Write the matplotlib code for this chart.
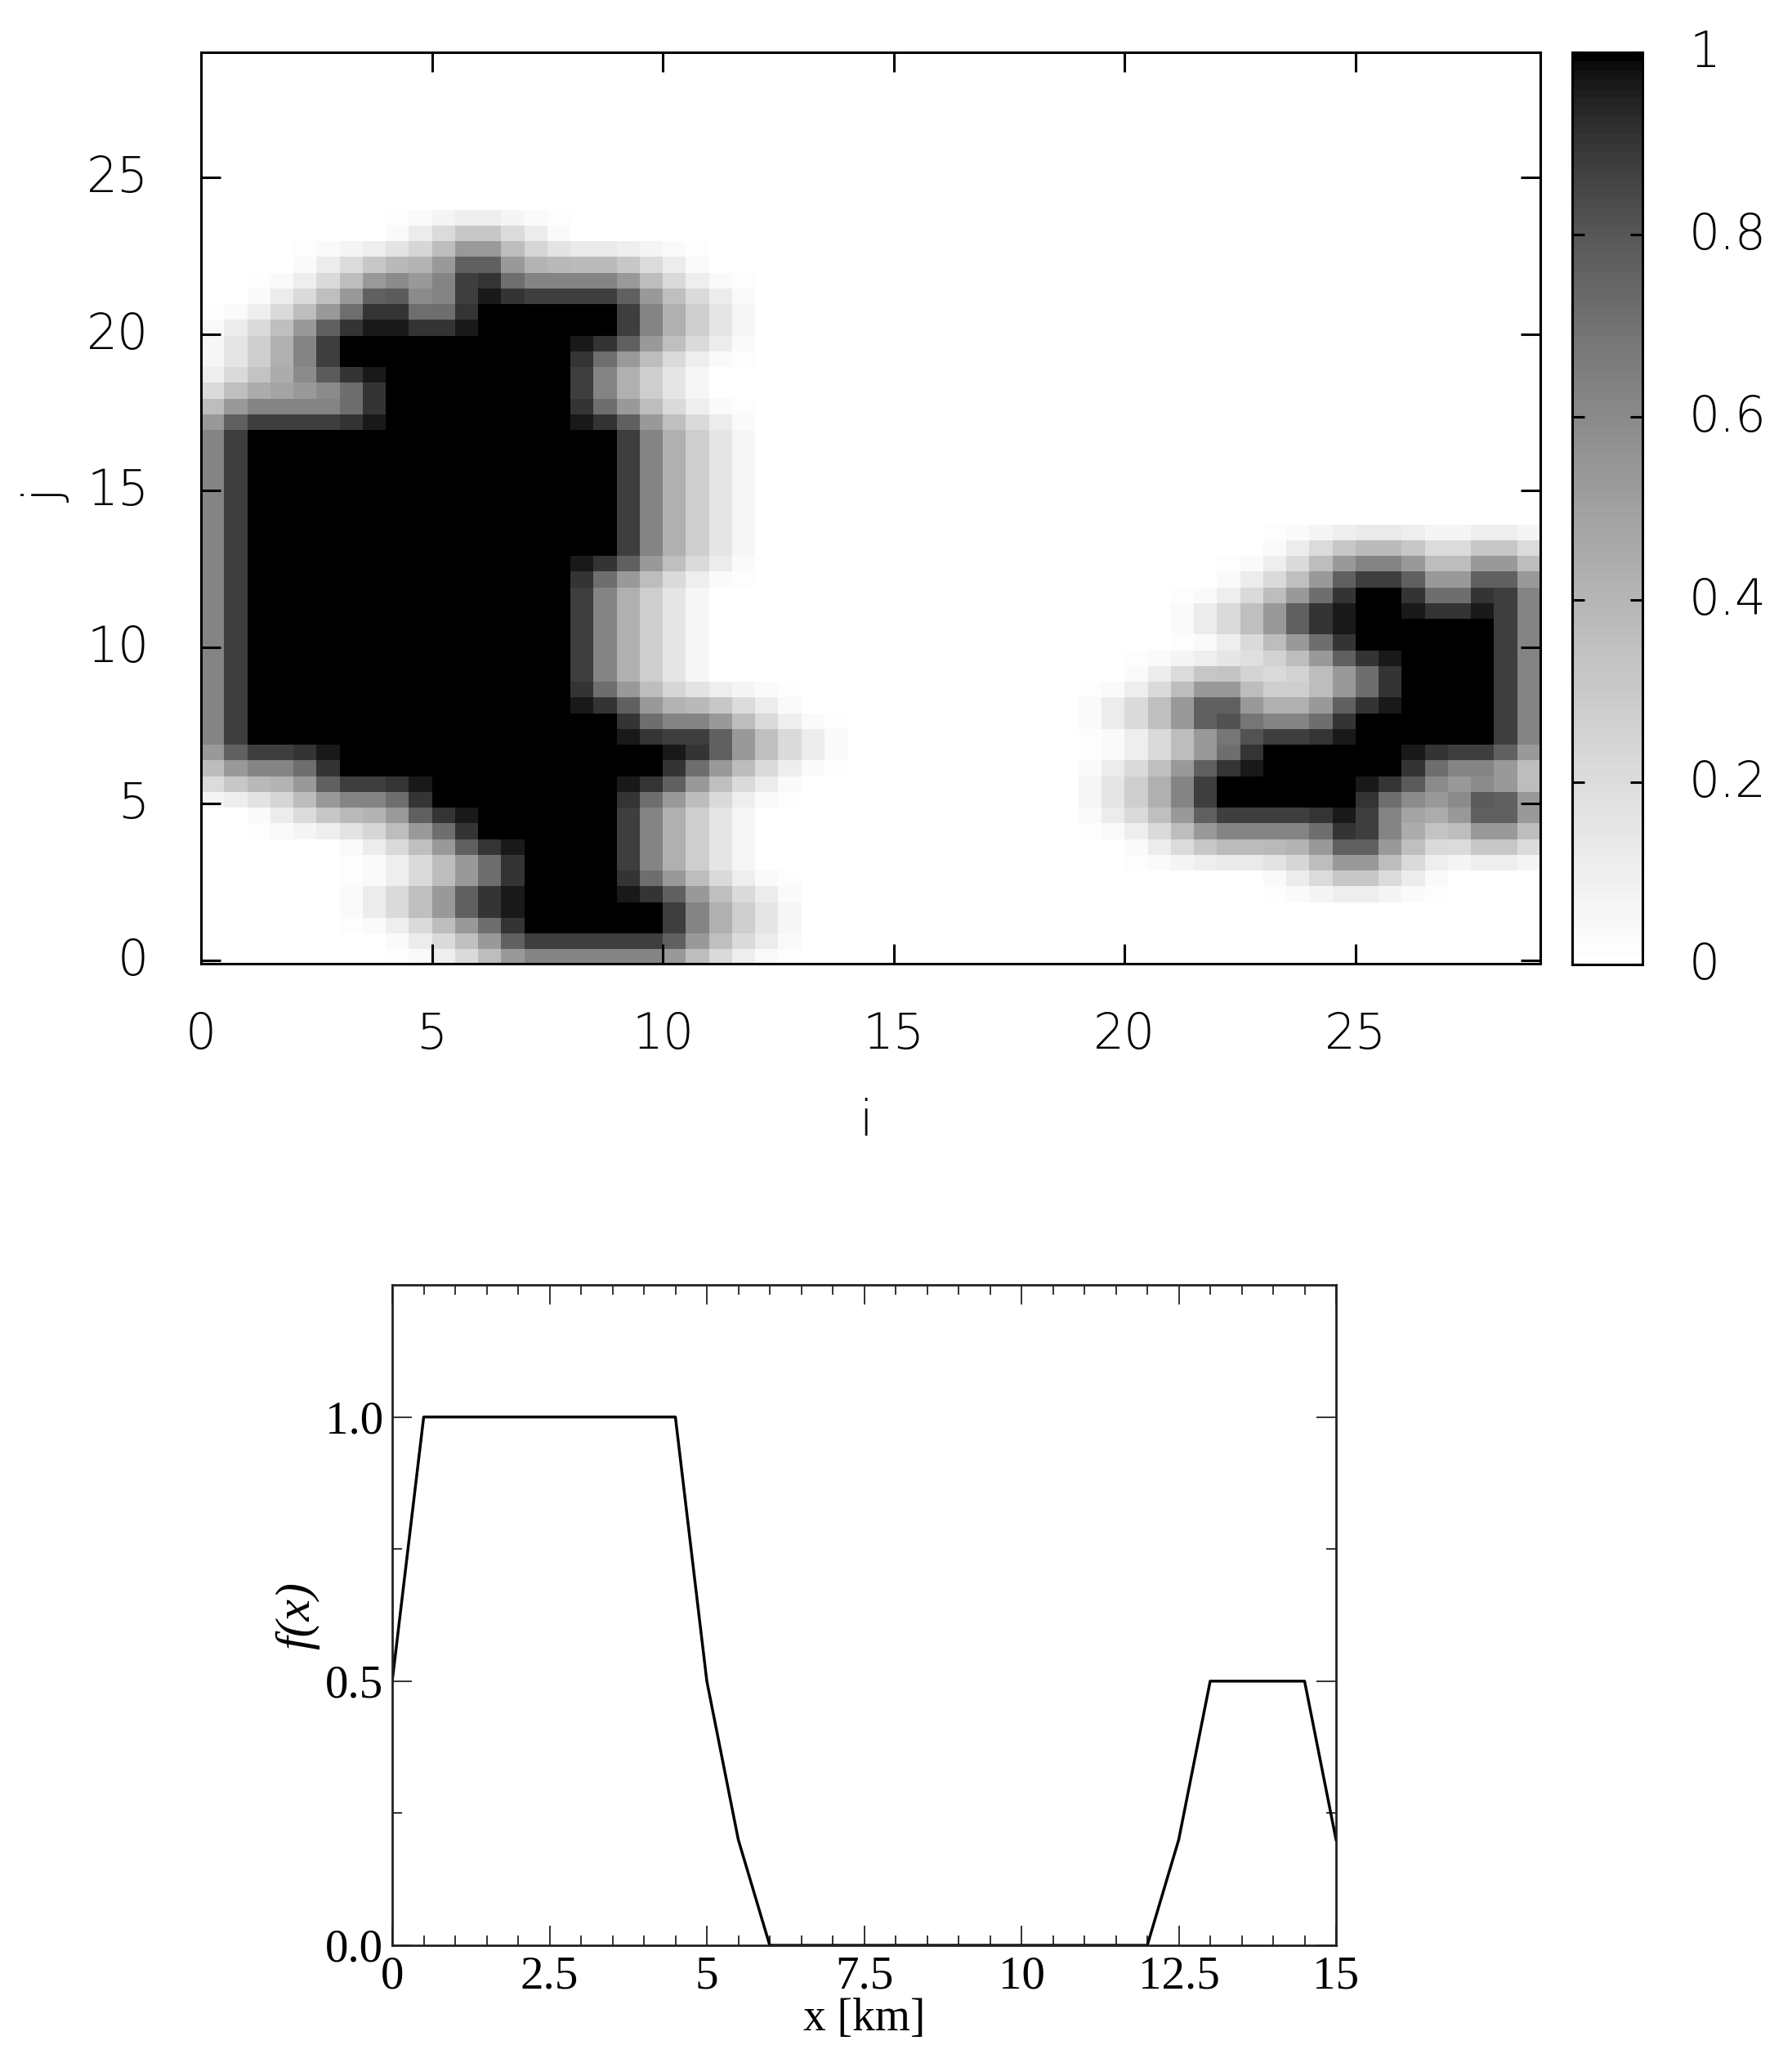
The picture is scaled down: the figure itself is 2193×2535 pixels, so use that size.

# two panel figure: gray map of f(i,j) on top, line profile f(x) below

import numpy as np
from matplotlib import pyplot as plt
from matplotlib.colors import ListedColormap
from matplotlib.transforms import ScaledTranslation

##############################
#            DATA            #
##############################

# f on the 30x30 grid, first row is j=0, first value in a row is i=0
field_rows = [
    [0,0,0,0,0,0,.2,.5,.5,.5,.5,.2,0,0,0,0,0,0,0,0,0,0,0,0,0,0,0,0,0,0],
    [0,0,0,0,0,.2,.5,1,1,1,1,.5,.2,0,0,0,0,0,0,0,0,0,0,0,0,0,0,0,0,0],
    [0,0,0,0,.2,.5,1,1,1,1,1,.5,.2,0,0,0,0,0,0,0,0,0,0,0,0,0,0,0,0,0],
    [0,0,0,0,0,.2,.5,1,1,1,.5,.2,0,0,0,0,0,0,0,0,0,0,0,0,.2,.5,.2,0,0,0],
    [0,0,0,0,.2,.5,1,1,1,1,.5,.2,0,0,0,0,0,0,0,0,0,.2,.5,.5,.5,1,.5,.2,.5,.2],
    [0,0,.2,.5,.5,1,1,1,1,1,.5,.2,0,0,0,0,0,0,0,0,.2,.5,1,1,1,1,.5,.5,1,.5],
    [.2,.5,.5,1,1,1,1,1,1,1,1,.5,.2,0,0,0,0,0,0,0,.2,.5,1,1,1,1,1,.5,.5,.2],
    [.5,1,1,1,1,1,1,1,1,1,1,1,.5,.2,0,0,0,0,0,0,0,.2,.5,1,1,1,1,1,1,.5],
    [.5,1,1,1,1,1,1,1,1,1,.5,.5,.2,0,0,0,0,0,0,0,.2,.5,1,.5,.5,1,1,1,1,.5],
    [.5,1,1,1,1,1,1,1,1,.5,.2,0,0,0,0,0,0,0,0,0,0,.2,.5,.2,.2,.5,1,1,1,.5],
    [.5,1,1,1,1,1,1,1,1,.5,.2,0,0,0,0,0,0,0,0,0,0,0,0,.2,.5,1,1,1,1,.5],
    [.5,1,1,1,1,1,1,1,1,.5,.2,0,0,0,0,0,0,0,0,0,0,0,.2,.5,1,1,1,1,1,.5],
    [.5,1,1,1,1,1,1,1,1,.5,.2,0,0,0,0,0,0,0,0,0,0,0,0,.2,.5,1,1,.5,1,.5],
    [.5,1,1,1,1,1,1,1,1,1,.5,.2,0,0,0,0,0,0,0,0,0,0,0,0,.2,.5,.5,.2,.5,.2],
    [.5,1,1,1,1,1,1,1,1,1,.5,.2,0,0,0,0,0,0,0,0,0,0,0,0,0,0,0,0,0,0],
    [.5,1,1,1,1,1,1,1,1,1,.5,.2,0,0,0,0,0,0,0,0,0,0,0,0,0,0,0,0,0,0],
    [.5,1,1,1,1,1,1,1,1,1,.5,.2,0,0,0,0,0,0,0,0,0,0,0,0,0,0,0,0,0,0],
    [.5,1,1,1,1,1,1,1,1,1,.5,.2,0,0,0,0,0,0,0,0,0,0,0,0,0,0,0,0,0,0],
    [.2,.5,.5,.5,1,1,1,1,1,.5,.2,0,0,0,0,0,0,0,0,0,0,0,0,0,0,0,0,0,0,0],
    [0,.2,.5,1,1,1,1,1,1,.5,.2,0,0,0,0,0,0,0,0,0,0,0,0,0,0,0,0,0,0,0],
    [0,.2,.5,1,1,1,1,1,1,1,.5,.2,0,0,0,0,0,0,0,0,0,0,0,0,0,0,0,0,0,0],
    [0,0,.2,.5,1,.5,1,1,1,1,.5,.2,0,0,0,0,0,0,0,0,0,0,0,0,0,0,0,0,0,0],
    [0,0,0,.2,.5,.5,1,.5,.5,.5,.2,0,0,0,0,0,0,0,0,0,0,0,0,0,0,0,0,0,0,0],
    [0,0,0,0,0,.2,.5,.2,0,0,0,0,0,0,0,0,0,0,0,0,0,0,0,0,0,0,0,0,0,0],
] + [[0] * 30 for j in range(6)]

map_xticks = [0, 5, 10, 15, 20, 25]
map_yticks = [0, 5, 10, 15, 20, 25]
bar_ticks = [0, 0.2, 0.4, 0.6, 0.8, 1]
bar_labels = ['0', '0.2', '0.4', '0.6', '0.8', '1']

profile_x = [0, .5, 1, 1.5, 2, 2.5, 3, 3.5, 4, 4.5, 5, 5.5, 6, 6.5, 7, 7.5,
             8, 8.5, 9, 9.5, 10, 10.5, 11, 11.5, 12, 12.5, 13, 13.5, 14, 14.5, 15]
profile_f = [.5, 1, 1, 1, 1, 1, 1, 1, 1, 1, .5, .2, 0, 0, 0, 0,
             0, 0, 0, 0, 0, 0, 0, 0, 0, .2, .5, .5, .5, .5, .2]
profile_xticks = [0, 2.5, 5, 7.5, 10, 12.5, 15]
profile_xlabels = ['0', '2.5', '5', '7.5', '10', '12.5', '15']
profile_yticks = [0, 0.5, 1]
profile_ylabels = ['0.0', '0.5', '1.0']

##############################
#         FUNCTIONS          #
##############################

W, H = 2193, 2535

def box(left, top, right, bottom):
    "Axes rectangle from pixel edges, y counted from the top of the picture"
    return [left / W, 1 - bottom / H, (right - left) / W, (bottom - top) / H]

def half_cells(grid):
    "Same facets as pm3d interpolate 2,2: halve the grid, colour each facet by its corner mean"
    n, m = grid.shape
    fine = np.zeros((2 * n - 1, 2 * m - 1))
    fine[::2, ::2] = grid
    fine[1::2, ::2] = (grid[:-1, :] + grid[1:, :]) / 2
    fine[::2, 1::2] = (grid[:, :-1] + grid[:, 1:]) / 2
    fine[1::2, 1::2] = (grid[:-1, :-1] + grid[1:, :-1] + grid[:-1, 1:] + grid[1:, 1:]) / 4
    return (fine[:-1, :-1] + fine[1:, :-1] + fine[:-1, 1:] + fine[1:, 1:]) / 4

def shift_labels(labels, fig, up_px):
    "Move tick labels up by some pixels"
    offset = ScaledTranslation(0, up_px / 100, fig.dpi_scale_trans)
    for label in labels:
        label.set_transform(label.get_transform() + offset)

##############################
#      VISUALIZATIONS        #
##############################

fig = plt.figure(figsize=(W / 100, H / 100), dpi=100)

# negative gray palette, gamma 1.5
levels = np.linspace(0, 1, 100)
gray_map = ListedColormap([str((1 - v) ** (1 / 1.5)) for v in levels])

ax = fig.add_axes(box(246, 64, 1885, 1179))
cells = half_cells(np.array(field_rows, dtype=float))
x_edges = np.arange(cells.shape[1] + 1) * 0.5
y_edges = -0.15 + 1.005 * np.arange(cells.shape[0] + 1) * 0.5
ax.pcolormesh(x_edges, y_edges, cells, cmap=gray_map, vmin=0, vmax=1, antialiased=False)
ax.set_xlim(0, 29)
ax.set_ylim(-0.11, 29)
ax.set_xticks(map_xticks)
ax.set_yticks(map_yticks)
ax.tick_params(which='both', direction='in', top=True, right=True, length=17, width=2.2,
               labelsize=43)
ax.tick_params(axis='x', pad=42)
ax.tick_params(axis='y', pad=46)
for label in ax.get_xticklabels() + ax.get_yticklabels():
    label.set_fontweight(200)
shift_labels(ax.get_yticklabels(), fig, 5)
for side in ax.spines.values():
    side.set_linewidth(2.2)
fig.text(1060 / W, 1 - 1372 / H, 'i', fontsize=43, fontweight=200, ha='center', va='center')
fig.text(57 / W, 1 - 607 / H, 'j', fontsize=43, fontweight=200, ha='center', va='center', rotation=90)

bar = fig.add_axes(box(1924, 64, 2010, 1180))
bar_edges = np.linspace(0, 1, 101)
bar.pcolormesh([0, 1], bar_edges, levels[:, None], cmap=gray_map, vmin=0, vmax=1, antialiased=False)
bar.set_ylim(0, 1)
bar.set_xticks([])
bar.set_yticks(bar_ticks)
bar.set_yticklabels(bar_labels, fontweight=200)
bar.yaxis.tick_right()
bar.tick_params(axis='y', direction='in', left=True, right=True, length=11, width=2.2,
                labelsize=43, pad=41)
shift_labels(bar.get_yticklabels(), fig, 5)
for side in bar.spines.values():
    side.set_linewidth(2.2)

serif = 'Liberation Serif'
ax2 = fig.add_axes(box(480, 1572, 1635, 2380))
ax2.plot(profile_x, profile_f, color='black', linewidth=2.5)
ax2.set_xlim(0, 15)
ax2.set_ylim(0, 1.25)
ax2.set_xticks(profile_xticks)
ax2.set_xticklabels(profile_xlabels, family=serif)
ax2.set_yticks(profile_yticks)
ax2.set_yticklabels(profile_ylabels, family=serif)
ax2.set_xticks(np.arange(0, 15.01, 0.5), minor=True)
ax2.set_yticks([0.25, 0.75], minor=True)
ax2.tick_params(which='both', direction='in', top=True, right=True, color='#333333')
ax2.tick_params(which='major', length=17, width=1.4, labelsize=41)
ax2.tick_params(which='minor', length=8.5, width=1.4)
ax2.tick_params(axis='x', which='major', pad=9)
ax2.tick_params(axis='y', which='major', pad=8)
for side in ax2.spines.values():
    side.set_linewidth(2)
    side.set_color('#222222')
fig.text(1058 / W, 1 - 2470 / H, 'x [km]', fontsize=40, family=serif, ha='center', va='center')
fig.text(364 / W, 1 - 1977 / H, 'f(x)', fontsize=43, family=serif, style='italic',
         ha='center', va='center', rotation=90)

fig.savefig('out.png', dpi=100)
